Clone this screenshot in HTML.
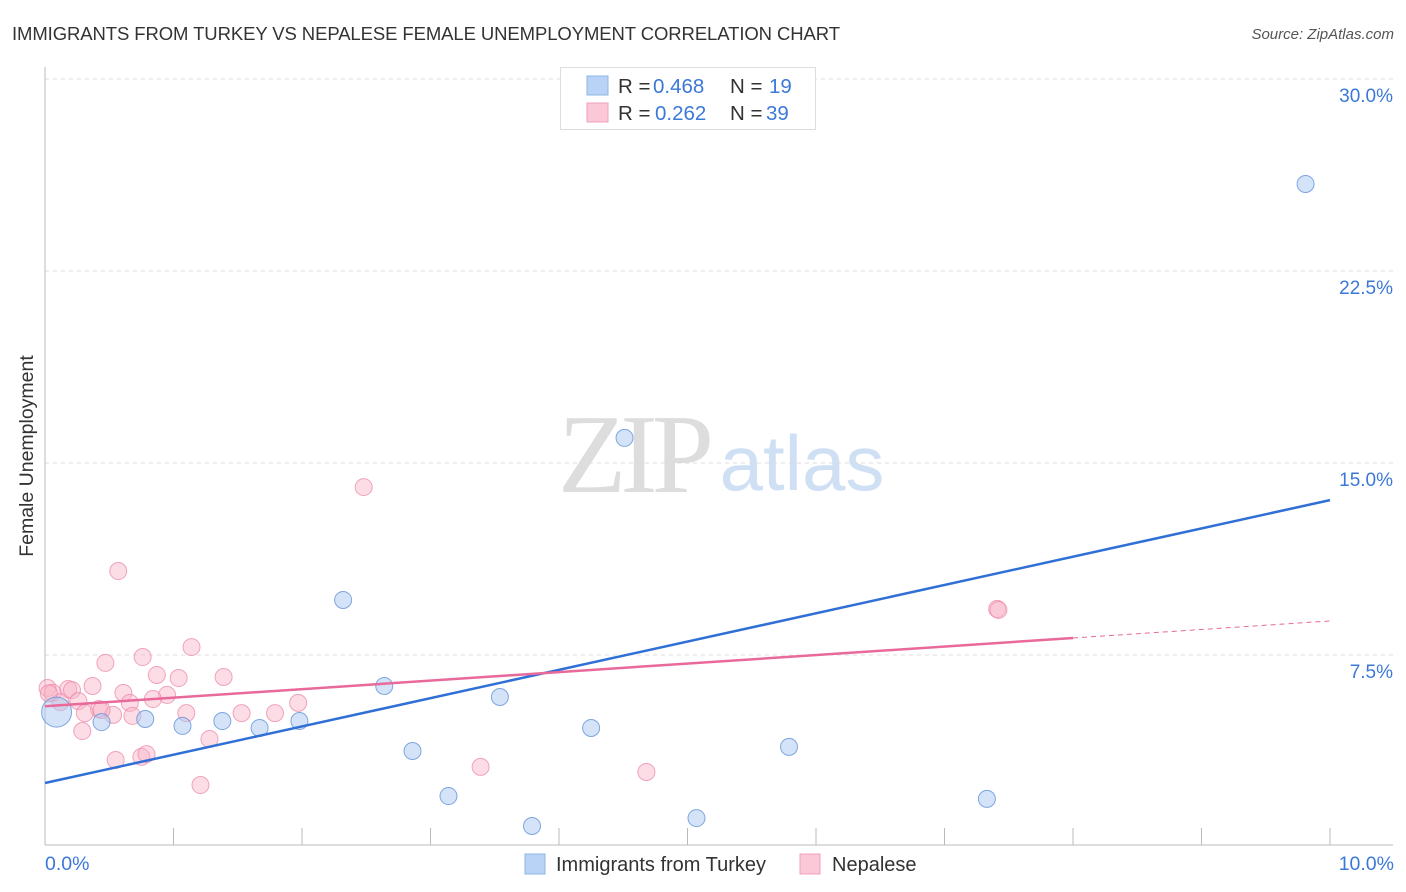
<!DOCTYPE html>
<html><head><meta charset="utf-8"><style>
body{margin:0;background:#fff;font-family:"Liberation Sans",sans-serif;}
svg{display:block}
</style></head><body>
<svg id="chart" width="1406" height="892">
<text x="12" y="40" font-size="18.5" fill="#333" textLength="828">IMMIGRANTS FROM TURKEY VS NEPALESE FEMALE UNEMPLOYMENT CORRELATION CHART</text>
<text x="1394" y="39" font-size="15" fill="#555" font-style="italic" text-anchor="end">Source: ZipAtlas.com</text>
<text x="33" y="456" font-size="19.5" fill="#333" text-anchor="middle" transform="rotate(-90 33 456)">Female Unemployment</text>
<g>
<text x="633" y="492" font-size="112" font-family="Liberation Serif,serif" fill="#ddd" text-anchor="middle" letter-spacing="-6">ZIP</text>
<text x="802" y="490" font-size="78" fill="#cfe0f5" text-anchor="middle">atlas</text>
</g>
<g id="grid"></g><g id="axes"></g><g id="marks"></g>
<g>
<rect x="560.5" y="67.5" width="255" height="62" fill="#fff" stroke="#ddd"/>
<rect x="587" y="76" width="21" height="19" fill="#b8d3f5" stroke="#8fb4e6"/>
<rect x="587" y="103" width="21" height="19" fill="#fbc8d7" stroke="#f0a0b8"/>
<text x="618" y="93" font-size="20.5" fill="#333">R = <tspan x="653" fill="#3b78d8">0.468</tspan><tspan x="730">N = </tspan><tspan x="769" fill="#3b78d8">19</tspan></text>
<text x="618" y="120" font-size="20.5" fill="#333">R = <tspan x="655" fill="#3b78d8">0.262</tspan><tspan x="730">N = </tspan><tspan x="766" fill="#3b78d8">39</tspan></text>
</g>
<g>
<rect x="525" y="854" width="20" height="20" fill="#b8d3f5" stroke="#8fb4e6"/>
<text x="556" y="871" font-size="20" fill="#333">Immigrants from Turkey</text>
<rect x="800" y="854" width="20" height="20" fill="#fbc8d7" stroke="#f0a0b8"/>
<text x="832" y="871" font-size="20" fill="#333">Nepalese</text>
</g>
</svg>
<script>
const yTicks=[7.5,15,22.5,30];
const yTickLabels=["7.5%","15.0%","22.5%","30.0%"];
const xTicks=[0,1,2,3,4,5,6,7,8,9,10];
const turkeyX=[0.09,0.44,0.78,1.07,1.38,1.67,1.98,2.32,2.64,2.86,3.14,3.54,3.79,4.25,4.51,5.07,5.79,7.33,9.81];
const turkeyY=[5.27,4.88,5.0,4.73,4.92,4.65,4.92,9.65,6.29,3.75,1.99,5.86,0.82,4.65,15.98,1.13,3.91,1.88,25.9];
const nepalX=[0.57,1.14,0.76,0.47,0.37,0.87,1.04,1.39,0.02,0.18,0.21,0.61,0.95,0.84,0.06,0.12,0.26,0.66,0.42,0.53,0.31,0.68,1.1,1.53,1.79,1.97,0.29,1.28,0.55,0.75,0.79,1.21,2.48,3.39,4.68,7.41,7.42,0.44,0.03];
const nepalY=[10.78,7.81,7.42,7.19,6.29,6.72,6.6,6.64,6.21,6.17,6.13,6.02,5.94,5.78,6.02,5.66,5.7,5.63,5.39,5.16,5.23,5.12,5.23,5.23,5.23,5.63,4.53,4.22,3.4,3.52,3.63,2.42,14.06,3.13,2.93,9.3,9.26,5.35,6.0];
const turkeyTrend=[2.5,13.55];
const nepalTrend=[5.5,8.83];
const nepalSolidEnd=8;
const NS="http://www.w3.org/2000/svg";
const X=v=>45+v*128.5, Y=v=>847-v*25.6;
function mk(tag,attrs,parent){const e=document.createElementNS(NS,tag);for(const k in attrs)e.setAttribute(k,attrs[k]);document.getElementById(parent).appendChild(e);return e;}
yTicks.forEach((t,i)=>{
 const l=mk('line',{x1:45,x2:1393,y1:Y(t),y2:Y(t),stroke:'#ddd','stroke-dasharray':'4 4'},'grid');
 
 
 const tx=mk('text',{x:1393,y:Y(t)+23,'font-size':19,fill:'#3b78d8','text-anchor':'end'},'grid');
 tx.textContent=yTickLabels[i];
 
 
});
const ya=mk('line',{x1:45,x2:45,y1:67,y2:845,stroke:'#bbb'},'axes');


const xa=mk('line',{x1:45,x2:1393,y1:845,y2:845,stroke:'#bbb'},'axes');


xTicks.forEach(t=>{
 const l=mk('line',{x1:X(t),x2:X(t),y1:828,y2:845,stroke:'#bbb'},'axes');
 
 
});
[[0,'start','0.0%'],[10,'end','10.0%']].forEach(([v,a,s])=>{
 const tx=mk('text',{x:v===0?45:1394,y:870,'font-size':19.5,fill:'#3b78d8','text-anchor':a},'axes');
 tx.textContent=s;
 
 
});
nepalX.forEach((x,i)=>{
 const c=mk('circle',{cx:X(x),cy:Y(nepalY[i]),r:8.5,fill:'rgba(248,180,200,0.45)',stroke:'rgba(235,130,165,0.7)','stroke-width':1},'marks');
 
 
});
turkeyX.forEach((x,i)=>{
 const c=mk('circle',{cx:X(x),cy:Y(turkeyY[i]),r:i===0?15:8.5,fill:'rgba(170,200,240,0.5)',stroke:'rgba(90,140,215,0.75)','stroke-width':1},'marks');
 
 
});
const bt=mk('line',{x1:X(0),y1:Y(turkeyTrend[0]),x2:X(10),y2:Y(turkeyTrend[1]),stroke:'#2f6fd6','stroke-width':2.5},'marks');


const pm=v=>nepalTrend[0]+(nepalTrend[1]-nepalTrend[0])*v/10;
const pt=mk('line',{x1:X(0),y1:Y(nepalTrend[0]),x2:X(nepalSolidEnd),y2:Y(pm(nepalSolidEnd)),stroke:'#e8699a','stroke-width':2.5},'marks');


const pd=mk('line',{x1:X(nepalSolidEnd),y1:Y(pm(nepalSolidEnd)),x2:X(10),y2:Y(nepalTrend[1]),stroke:'#e8699a','stroke-width':1,'stroke-dasharray':'5 4'},'marks');


</script>
</body></html>
